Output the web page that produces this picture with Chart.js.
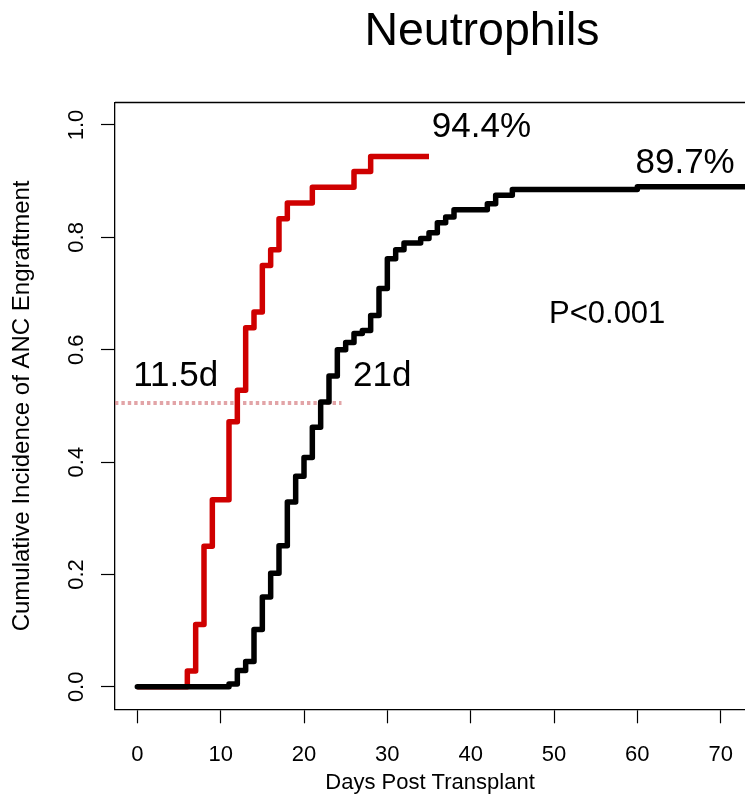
<!DOCTYPE html>
<html><head><meta charset="utf-8">
<script src="https://cdn.jsdelivr.net/npm/chart.js@4.4.0/dist/chart.umd.min.js"></script>
<style>html,body{margin:0;padding:0;background:#fff;overflow:hidden}#wrap{width:745px;height:796px;position:relative}</style>
</head><body><div id="wrap"><canvas id="c" width="745" height="796"></canvas></div>
<script>
const titleText = "Neutrophils";
const xTitle = "Days Post Transplant";
const yTitle = "Cumulative Incidence of ANC Engraftment";
const xTicks = [0, 10, 20, 30, 40, 50, 60, 70];
const yTicks = [0, 0.2, 0.4, 0.6, 0.8, 1.0];
const yTickLabels = ["0.0", "0.2", "0.4", "0.6", "0.8", "1.0"];

// red group (step function: day, cumulative incidence)
const redDays   = [0, 6, 7, 8, 9, 11, 12, 13, 14, 15, 16, 17, 18, 21, 26, 28, 35];
const redValues = [0, 0.028, 0.111, 0.25, 0.333, 0.472, 0.528, 0.639, 0.667, 0.75, 0.778, 0.833, 0.861, 0.889, 0.917, 0.944, 0.944];

// black group
const blackDays   = [0, 11, 12, 13, 14, 15, 16, 17, 18, 19, 20, 21, 22, 23, 24, 25, 26, 27, 28, 29, 30, 31, 32, 34, 35, 36, 37, 38, 42, 43, 45, 60, 76];
const blackValues = [0, 0.005, 0.029, 0.045, 0.102, 0.16, 0.202, 0.251, 0.329, 0.375, 0.408, 0.462, 0.507, 0.553, 0.600, 0.613, 0.629, 0.634, 0.661, 0.709, 0.762, 0.778, 0.790, 0.798, 0.808, 0.826, 0.836, 0.849, 0.860, 0.875, 0.885, 0.890, 0.890];

// median reference line
const medianDays   = [-2.68, 24.5];
const medianValues = [0.505, 0.505];

const annotations = [
  {text: "94.4%", size: 35, x: 431.8, y: 136.7},
  {text: "89.7%", size: 35, x: 635.5, y: 173.3},
  {text: "P<0.001", size: 31, x: 549, y: 322.7},
  {text: "11.5d", size: 35, x: 133.2, y: 386},
  {text: "21d", size: 35, x: 353, y: 386}
];

const FONT = '"Liberation Sans", Arial, Helvetica, sans-serif';
const toPts = (xs, ys) => xs.map((x, i) => ({x: x, y: ys[i]}));

const annotPlugin = {
  id: 'annot',
  afterDraw(chart) {
    const {ctx, chartArea: a} = chart;
    ctx.save();
    ctx.strokeStyle = '#000';
    ctx.lineWidth = 1.3;
    ctx.beginPath();
    ctx.moveTo(a.left, a.top);
    ctx.lineTo(a.right + 2, a.top);
    ctx.stroke();
    ctx.fillStyle = '#000';
    ctx.textBaseline = 'alphabetic';
    ctx.textAlign = 'center';
    ctx.font = '46.5px ' + FONT;
    ctx.fillText(titleText, 482, 45);
    ctx.textAlign = 'left';
    annotations.forEach(t => {
      ctx.font = t.size + 'px ' + FONT;
      ctx.fillText(t.text, t.x, t.y);
    });
    ctx.restore();
  }
};

new Chart(document.getElementById('c'), {
  type: 'line',
  data: {
    datasets: [
      {
        data: toPts(blackDays, blackValues),
        borderColor: '#000000', borderWidth: 5.5, stepped: true,
        pointRadius: 0, fill: false, borderCapStyle: 'round', borderJoinStyle: 'round', order: 1
      },
      {
        data: toPts(redDays, redValues),
        borderColor: '#cf0000', borderWidth: 5.5, stepped: true,
        pointRadius: 0, fill: false, borderCapStyle: 'butt', borderJoinStyle: 'round', order: 2
      },
      {
        data: toPts(medianDays, medianValues),
        borderColor: 'rgba(214,125,130,0.7)', borderWidth: 4, borderDash: [3.4, 3],
        pointRadius: 0, fill: false, order: 3
      }
    ]
  },
  options: {
    responsive: false,
    devicePixelRatio: 1,
    animation: false,
    layout: {padding: {top: 102.5, left: 0, right: 0, bottom: 0}},
    plugins: {legend: {display: false}, tooltip: {enabled: false}, title: {display: false}},
    scales: {
      x: {
        type: 'linear', min: -2.68, max: 72.92,
        afterBuildTicks: s => { s.ticks = xTicks.map(v => ({value: v})); },
        afterFit: s => { s.height = 86.7; s.paddingLeft = 0; s.paddingRight = 0; },
        grid: {display: true, drawOnChartArea: false, drawTicks: true, tickLength: 14, tickColor: '#000', tickWidth: 1.2},
        border: {display: true, color: '#000', width: 1.3},
        ticks: {color: '#000', font: {family: FONT, size: 22}, padding: 18.6, maxRotation: 0, minRotation: 0,
                callback: v => String(v)},
        title: {display: true, text: xTitle, color: '#000', font: {family: FONT, size: 22}, padding: {top: 0, bottom: 0}}
      },
      y: {
        type: 'linear', min: -0.04, max: 1.04,
        afterBuildTicks: s => { s.ticks = yTicks.map(v => ({value: v})); },
        afterFit: s => { s.width = 115; s.paddingTop = 0; s.paddingBottom = 0; },
        grid: {display: true, drawOnChartArea: false, drawTicks: true, tickLength: 14, tickColor: '#000', tickWidth: 1.2},
        border: {display: true, color: '#000', width: 1.3},
        ticks: {color: '#000', font: {family: FONT, size: 22}, padding: 9, minRotation: 90, maxRotation: 90,
                crossAlign: 'center',
                callback: v => { const i = yTicks.findIndex(t => Math.abs(t - v) < 1e-9); return i >= 0 ? yTickLabels[i] : ''; }},
        title: {display: true, text: yTitle, color: '#000', font: {family: FONT, size: 24}, padding: {top: 8.1, bottom: 0}}
      }
    }
  },
  plugins: [annotPlugin]
});
</script></body></html>
